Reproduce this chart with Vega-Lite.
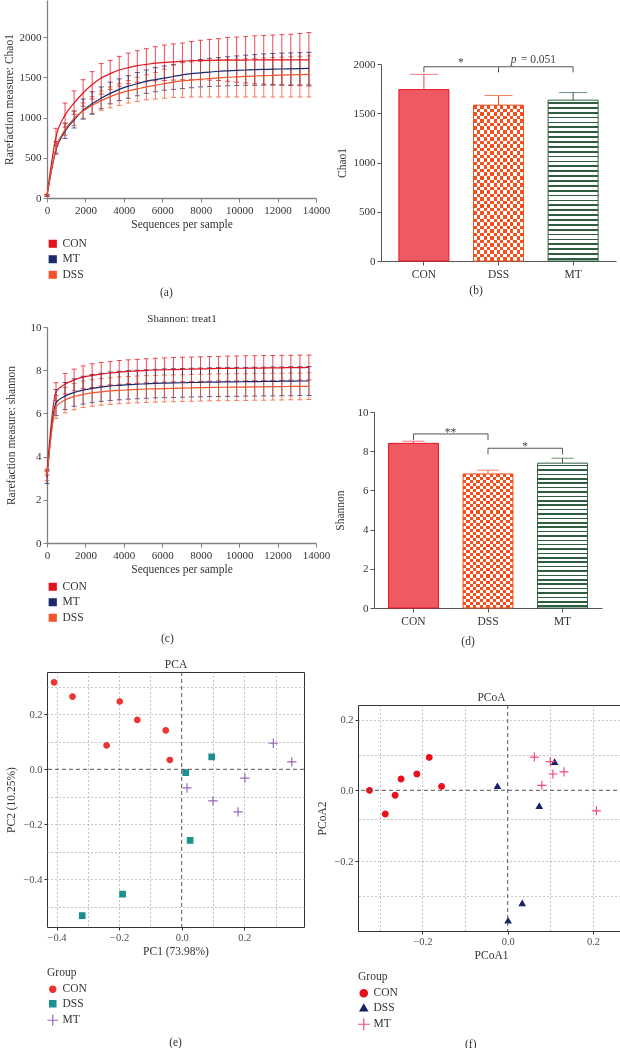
{
"$schema": "https://vega.github.io/schema/vega-lite/v6.json",
"padding": {"left": 3, "top": 0, "right": 0, "bottom": 0},
"spacing": -14,
"resolve": {"scale": {"color": "independent", "fill": "independent", "stroke": "independent", "shape": "independent", "x": "independent", "y": "independent"}, "legend": {"color": "independent", "fill": "independent", "stroke": "independent", "shape": "independent"}},
"datasets": {
"rare_chao": [
{"seq":0,"group":"CON","mean":35,"lo":25,"hi":45},{"seq":0,"group":"MT","mean":30,"lo":20,"hi":40},{"seq":0,"group":"DSS","mean":30,"lo":20,"hi":40},
{"seq":470,"group":"CON","mean":760,"lo":650,"hi":866},{"seq":470,"group":"MT","mean":600,"lo":545,"hi":700},{"seq":470,"group":"DSS","mean":620,"lo":560,"hi":700},
{"seq":940,"group":"CON","mean":1030,"lo":880,"hi":1180},{"seq":940,"group":"MT","mean":830,"lo":740,"hi":930},{"seq":940,"group":"DSS","mean":850,"lo":780,"hi":930},
{"seq":1410,"group":"CON","mean":1180,"lo":1040,"hi":1330},{"seq":1410,"group":"MT","mean":970,"lo":870,"hi":1080},{"seq":1410,"group":"DSS","mean":990,"lo":900,"hi":1080},
{"seq":1880,"group":"CON","mean":1305,"lo":1140,"hi":1470},{"seq":1880,"group":"MT","mean":1090,"lo":980,"hi":1230},{"seq":1880,"group":"DSS","mean":1080,"lo":990,"hi":1180},
{"seq":2350,"group":"CON","mean":1410,"lo":1230,"hi":1570},{"seq":2350,"group":"MT","mean":1170,"lo":1040,"hi":1320},{"seq":2350,"group":"DSS","mean":1150,"lo":1050,"hi":1260},
{"seq":2820,"group":"CON","mean":1490,"lo":1290,"hi":1670},{"seq":2820,"group":"MT","mean":1240,"lo":1110,"hi":1380},{"seq":2820,"group":"DSS","mean":1210,"lo":1090,"hi":1330},
{"seq":3290,"group":"CON","mean":1545,"lo":1350,"hi":1710},{"seq":3290,"group":"MT","mean":1300,"lo":1170,"hi":1440},{"seq":3290,"group":"DSS","mean":1260,"lo":1120,"hi":1380},
{"seq":3760,"group":"CON","mean":1590,"lo":1390,"hi":1760},{"seq":3760,"group":"MT","mean":1350,"lo":1210,"hi":1480},{"seq":3760,"group":"DSS","mean":1300,"lo":1150,"hi":1420},
{"seq":4230,"group":"CON","mean":1620,"lo":1420,"hi":1800},{"seq":4230,"group":"MT","mean":1390,"lo":1240,"hi":1520},{"seq":4230,"group":"DSS","mean":1330,"lo":1180,"hi":1460},
{"seq":4700,"group":"CON","mean":1645,"lo":1440,"hi":1830},{"seq":4700,"group":"MT","mean":1420,"lo":1270,"hi":1560},{"seq":4700,"group":"DSS","mean":1355,"lo":1200,"hi":1500},
{"seq":5170,"group":"CON","mean":1660,"lo":1450,"hi":1855},{"seq":5170,"group":"MT","mean":1450,"lo":1300,"hi":1590},{"seq":5170,"group":"DSS","mean":1380,"lo":1220,"hi":1530},
{"seq":5640,"group":"CON","mean":1675,"lo":1455,"hi":1880},{"seq":5640,"group":"MT","mean":1470,"lo":1320,"hi":1620},{"seq":5640,"group":"DSS","mean":1400,"lo":1230,"hi":1560},
{"seq":6110,"group":"CON","mean":1685,"lo":1460,"hi":1900},{"seq":6110,"group":"MT","mean":1490,"lo":1340,"hi":1640},{"seq":6110,"group":"DSS","mean":1420,"lo":1240,"hi":1600},
{"seq":6580,"group":"CON","mean":1692,"lo":1465,"hi":1915},{"seq":6580,"group":"MT","mean":1510,"lo":1350,"hi":1660},{"seq":6580,"group":"DSS","mean":1440,"lo":1250,"hi":1650},
{"seq":7050,"group":"CON","mean":1700,"lo":1470,"hi":1925},{"seq":7050,"group":"MT","mean":1530,"lo":1360,"hi":1690},{"seq":7050,"group":"DSS","mean":1455,"lo":1250,"hi":1680},
{"seq":7520,"group":"CON","mean":1705,"lo":1470,"hi":1945},{"seq":7520,"group":"MT","mean":1545,"lo":1370,"hi":1710},{"seq":7520,"group":"DSS","mean":1465,"lo":1255,"hi":1690},
{"seq":7990,"group":"CON","mean":1708,"lo":1470,"hi":1960},{"seq":7990,"group":"MT","mean":1555,"lo":1380,"hi":1720},{"seq":7990,"group":"DSS","mean":1475,"lo":1255,"hi":1700},
{"seq":8460,"group":"CON","mean":1710,"lo":1465,"hi":1970},{"seq":8460,"group":"MT","mean":1565,"lo":1385,"hi":1735},{"seq":8460,"group":"DSS","mean":1485,"lo":1255,"hi":1705},
{"seq":8930,"group":"CON","mean":1712,"lo":1460,"hi":1980},{"seq":8930,"group":"MT","mean":1575,"lo":1390,"hi":1745},{"seq":8930,"group":"DSS","mean":1492,"lo":1255,"hi":1715},
{"seq":9400,"group":"CON","mean":1713,"lo":1450,"hi":1995},{"seq":9400,"group":"MT","mean":1580,"lo":1395,"hi":1755},{"seq":9400,"group":"DSS","mean":1500,"lo":1255,"hi":1720},
{"seq":9870,"group":"CON","mean":1714,"lo":1440,"hi":2000},{"seq":9870,"group":"MT","mean":1585,"lo":1398,"hi":1765},{"seq":9870,"group":"DSS","mean":1505,"lo":1255,"hi":1725},
{"seq":10340,"group":"CON","mean":1714,"lo":1430,"hi":2005},{"seq":10340,"group":"MT","mean":1590,"lo":1400,"hi":1775},{"seq":10340,"group":"DSS","mean":1510,"lo":1255,"hi":1730},
{"seq":10810,"group":"CON","mean":1715,"lo":1420,"hi":2015},{"seq":10810,"group":"MT","mean":1595,"lo":1400,"hi":1782},{"seq":10810,"group":"DSS","mean":1515,"lo":1255,"hi":1735},
{"seq":11280,"group":"CON","mean":1715,"lo":1415,"hi":2020},{"seq":11280,"group":"MT","mean":1598,"lo":1402,"hi":1790},{"seq":11280,"group":"DSS","mean":1520,"lo":1255,"hi":1740},
{"seq":11750,"group":"CON","mean":1715,"lo":1410,"hi":2025},{"seq":11750,"group":"MT","mean":1600,"lo":1402,"hi":1795},{"seq":11750,"group":"DSS","mean":1523,"lo":1255,"hi":1745},
{"seq":12220,"group":"CON","mean":1715,"lo":1405,"hi":2030},{"seq":12220,"group":"MT","mean":1603,"lo":1403,"hi":1800},{"seq":12220,"group":"DSS","mean":1527,"lo":1255,"hi":1750},
{"seq":12690,"group":"CON","mean":1715,"lo":1400,"hi":2035},{"seq":12690,"group":"MT","mean":1605,"lo":1403,"hi":1803},{"seq":12690,"group":"DSS","mean":1530,"lo":1255,"hi":1755},
{"seq":13160,"group":"CON","mean":1715,"lo":1395,"hi":2045},{"seq":13160,"group":"MT","mean":1607,"lo":1404,"hi":1806},{"seq":13160,"group":"DSS","mean":1533,"lo":1255,"hi":1760},
{"seq":13630,"group":"CON","mean":1715,"lo":1390,"hi":2055},{"seq":13630,"group":"MT","mean":1610,"lo":1405,"hi":1810},{"seq":13630,"group":"DSS","mean":1536,"lo":1255,"hi":1765}
],
"rare_shannon": [
{"seq":0,"group":"CON","mean":3.3,"lo":3.15,"hi":3.42},{"seq":0,"group":"MT","mean":3.05,"lo":2.75,"hi":3.35},{"seq":0,"group":"DSS","mean":3.1,"lo":2.88,"hi":3.3},
{"seq":470,"group":"CON","mean":7.0,"lo":6.6,"hi":7.42},{"seq":470,"group":"MT","mean":6.5,"lo":5.9,"hi":7.1},{"seq":470,"group":"DSS","mean":6.3,"lo":5.77,"hi":6.83},
{"seq":940,"group":"CON","mean":7.35,"lo":6.9,"hi":7.85},{"seq":940,"group":"MT","mean":6.8,"lo":6.18,"hi":7.43},{"seq":940,"group":"DSS","mean":6.62,"lo":6.02,"hi":7.2},
{"seq":1410,"group":"CON","mean":7.55,"lo":7.05,"hi":8.05},{"seq":1410,"group":"MT","mean":6.97,"lo":6.33,"hi":7.6},{"seq":1410,"group":"DSS","mean":6.78,"lo":6.17,"hi":7.38},
{"seq":1880,"group":"CON","mean":7.68,"lo":7.15,"hi":8.2},{"seq":1880,"group":"MT","mean":7.08,"lo":6.43,"hi":7.72},{"seq":1880,"group":"DSS","mean":6.88,"lo":6.27,"hi":7.49},
{"seq":2350,"group":"CON","mean":7.76,"lo":7.2,"hi":8.3},{"seq":2350,"group":"MT","mean":7.16,"lo":6.5,"hi":7.8},{"seq":2350,"group":"DSS","mean":6.95,"lo":6.33,"hi":7.56},
{"seq":2820,"group":"CON","mean":7.82,"lo":7.27,"hi":8.36},{"seq":2820,"group":"MT","mean":7.22,"lo":6.56,"hi":7.86},{"seq":2820,"group":"DSS","mean":7.0,"lo":6.38,"hi":7.61},
{"seq":3290,"group":"CON","mean":7.87,"lo":7.32,"hi":8.4},{"seq":3290,"group":"MT","mean":7.27,"lo":6.6,"hi":7.92},{"seq":3290,"group":"DSS","mean":7.04,"lo":6.42,"hi":7.65},
{"seq":3760,"group":"CON","mean":7.91,"lo":7.35,"hi":8.45},{"seq":3760,"group":"MT","mean":7.3,"lo":6.63,"hi":7.95},{"seq":3760,"group":"DSS","mean":7.07,"lo":6.45,"hi":7.69},
{"seq":4230,"group":"CON","mean":7.94,"lo":7.38,"hi":8.48},{"seq":4230,"group":"MT","mean":7.33,"lo":6.66,"hi":7.98},{"seq":4230,"group":"DSS","mean":7.09,"lo":6.47,"hi":7.71},
{"seq":4700,"group":"CON","mean":7.97,"lo":7.4,"hi":8.5},{"seq":4700,"group":"MT","mean":7.35,"lo":6.68,"hi":8.0},{"seq":4700,"group":"DSS","mean":7.11,"lo":6.49,"hi":7.73},
{"seq":5170,"group":"CON","mean":7.99,"lo":7.42,"hi":8.53},{"seq":5170,"group":"MT","mean":7.37,"lo":6.7,"hi":8.02},{"seq":5170,"group":"DSS","mean":7.13,"lo":6.51,"hi":7.75},
{"seq":5640,"group":"CON","mean":8.01,"lo":7.44,"hi":8.55},{"seq":5640,"group":"MT","mean":7.39,"lo":6.72,"hi":8.04},{"seq":5640,"group":"DSS","mean":7.14,"lo":6.52,"hi":7.76},
{"seq":6110,"group":"CON","mean":8.02,"lo":7.45,"hi":8.57},{"seq":6110,"group":"MT","mean":7.4,"lo":6.73,"hi":8.06},{"seq":6110,"group":"DSS","mean":7.15,"lo":6.53,"hi":7.77},
{"seq":6580,"group":"CON","mean":8.03,"lo":7.46,"hi":8.59},{"seq":6580,"group":"MT","mean":7.41,"lo":6.74,"hi":8.07},{"seq":6580,"group":"DSS","mean":7.16,"lo":6.54,"hi":7.78},
{"seq":7050,"group":"CON","mean":8.04,"lo":7.47,"hi":8.6},{"seq":7050,"group":"MT","mean":7.42,"lo":6.75,"hi":8.08},{"seq":7050,"group":"DSS","mean":7.17,"lo":6.55,"hi":7.79},
{"seq":7520,"group":"CON","mean":8.05,"lo":7.48,"hi":8.61},{"seq":7520,"group":"MT","mean":7.43,"lo":6.76,"hi":8.09},{"seq":7520,"group":"DSS","mean":7.18,"lo":6.56,"hi":7.8},
{"seq":7990,"group":"CON","mean":8.06,"lo":7.49,"hi":8.62},{"seq":7990,"group":"MT","mean":7.44,"lo":6.77,"hi":8.1},{"seq":7990,"group":"DSS","mean":7.19,"lo":6.57,"hi":7.81},
{"seq":8460,"group":"CON","mean":8.07,"lo":7.49,"hi":8.63},{"seq":8460,"group":"MT","mean":7.45,"lo":6.78,"hi":8.11},{"seq":8460,"group":"DSS","mean":7.2,"lo":6.58,"hi":7.82},
{"seq":8930,"group":"CON","mean":8.08,"lo":7.5,"hi":8.64},{"seq":8930,"group":"MT","mean":7.45,"lo":6.78,"hi":8.12},{"seq":8930,"group":"DSS","mean":7.21,"lo":6.59,"hi":7.83},
{"seq":9400,"group":"CON","mean":8.08,"lo":7.5,"hi":8.65},{"seq":9400,"group":"MT","mean":7.46,"lo":6.79,"hi":8.12},{"seq":9400,"group":"DSS","mean":7.21,"lo":6.59,"hi":7.83},
{"seq":9870,"group":"CON","mean":8.09,"lo":7.51,"hi":8.66},{"seq":9870,"group":"MT","mean":7.46,"lo":6.79,"hi":8.13},{"seq":9870,"group":"DSS","mean":7.22,"lo":6.6,"hi":7.84},
{"seq":10340,"group":"CON","mean":8.09,"lo":7.51,"hi":8.67},{"seq":10340,"group":"MT","mean":7.47,"lo":6.8,"hi":8.13},{"seq":10340,"group":"DSS","mean":7.22,"lo":6.6,"hi":7.84},
{"seq":10810,"group":"CON","mean":8.1,"lo":7.52,"hi":8.67},{"seq":10810,"group":"MT","mean":7.47,"lo":6.8,"hi":8.14},{"seq":10810,"group":"DSS","mean":7.23,"lo":6.61,"hi":7.85},
{"seq":11280,"group":"CON","mean":8.1,"lo":7.52,"hi":8.68},{"seq":11280,"group":"MT","mean":7.48,"lo":6.81,"hi":8.14},{"seq":11280,"group":"DSS","mean":7.23,"lo":6.61,"hi":7.85},
{"seq":11750,"group":"CON","mean":8.11,"lo":7.53,"hi":8.68},{"seq":11750,"group":"MT","mean":7.48,"lo":6.81,"hi":8.15},{"seq":11750,"group":"DSS","mean":7.24,"lo":6.62,"hi":7.86},
{"seq":12220,"group":"CON","mean":8.11,"lo":7.53,"hi":8.69},{"seq":12220,"group":"MT","mean":7.49,"lo":6.82,"hi":8.15},{"seq":12220,"group":"DSS","mean":7.24,"lo":6.62,"hi":7.86},
{"seq":12690,"group":"CON","mean":8.12,"lo":7.54,"hi":8.69},{"seq":12690,"group":"MT","mean":7.49,"lo":6.82,"hi":8.16},{"seq":12690,"group":"DSS","mean":7.25,"lo":6.63,"hi":7.87},
{"seq":13160,"group":"CON","mean":8.12,"lo":7.54,"hi":8.7},{"seq":13160,"group":"MT","mean":7.5,"lo":6.83,"hi":8.16},{"seq":13160,"group":"DSS","mean":7.25,"lo":6.63,"hi":7.87},
{"seq":13630,"group":"CON","mean":8.13,"lo":7.55,"hi":8.7},{"seq":13630,"group":"MT","mean":7.5,"lo":6.83,"hi":8.17},{"seq":13630,"group":"DSS","mean":7.26,"lo":6.64,"hi":7.88}
],
"bars_chao": [{"group":"CON","mean":1740,"hi":1895},{"group":"DSS","mean":1582,"hi":1680},{"group":"MT","mean":1633,"hi":1710}],
"bars_shannon": [{"group":"CON","mean":8.4,"hi":8.51},{"group":"DSS","mean":6.84,"hi":7.03},{"group":"MT","mean":7.39,"hi":7.64}],
"pca": [
{"group":"CON","pc1":-0.408,"pc2":0.317},{"group":"CON","pc1":-0.349,"pc2":0.265},{"group":"CON","pc1":-0.198,"pc2":0.247},{"group":"CON","pc1":-0.142,"pc2":0.18},{"group":"CON","pc1":-0.051,"pc2":0.142},{"group":"CON","pc1":-0.24,"pc2":0.087},{"group":"CON","pc1":-0.038,"pc2":0.034},
{"group":"DSS","pc1":0.096,"pc2":0.045},{"group":"DSS","pc1":0.013,"pc2":-0.012},{"group":"DSS","pc1":0.027,"pc2":-0.259},{"group":"DSS","pc1":-0.189,"pc2":-0.455},{"group":"DSS","pc1":-0.318,"pc2":-0.533},
{"group":"MT","pc1":0.293,"pc2":0.095},{"group":"MT","pc1":0.352,"pc2":0.027},{"group":"MT","pc1":0.202,"pc2":-0.032},{"group":"MT","pc1":0.017,"pc2":-0.068},{"group":"MT","pc1":0.1,"pc2":-0.115},{"group":"MT","pc1":0.18,"pc2":-0.155}
],
"pcoa": [
{"group":"CON","a1":-0.324,"a2":0.0},{"group":"CON","a1":-0.287,"a2":-0.067},{"group":"CON","a1":-0.264,"a2":-0.014},{"group":"CON","a1":-0.25,"a2":0.032},{"group":"CON","a1":-0.213,"a2":0.046},{"group":"CON","a1":-0.184,"a2":0.093},{"group":"CON","a1":-0.155,"a2":0.011},
{"group":"DSS","a1":-0.024,"a2":0.012},{"group":"DSS","a1":0.11,"a2":0.08},{"group":"DSS","a1":0.074,"a2":-0.044},{"group":"DSS","a1":0.034,"a2":-0.319},{"group":"DSS","a1":0.001,"a2":-0.368},
{"group":"MT","a1":0.0625,"a2":0.094},{"group":"MT","a1":0.1,"a2":0.081},{"group":"MT","a1":0.106,"a2":0.046},{"group":"MT","a1":0.132,"a2":0.052},{"group":"MT","a1":0.08,"a2":0.014},{"group":"MT","a1":0.208,"a2":-0.058}
]
},
"hconcat": [
{
"vconcat": [
{
"width": 269, "height": 198,
"data": {"name": "rare_chao"},
"title": {"text": "(a)", "orient": "bottom", "anchor": "middle", "frame": "bounds", "offset": 5},
"layer": [
{"mark": {"type": "errorbar", "ticks": {"size": 5}, "thickness": 1, "opacity": 0.75},
 "encoding": {
  "x": {"field": "seq", "type": "quantitative", "scale": {"domain": [0, 14000], "nice": false}, "axis": {"values": [0,2000,4000,6000,8000,10000,12000,14000], "format": "d", "title": "Sequences per sample", "titlePadding": 3, "labelOverlap": false, "labelFlush": false, "domainWidth": 1.3}},
  "y": {"field": "lo", "type": "quantitative", "scale": {"domain": [0, 2460], "nice": false}, "axis": {"values": [0,500,1000,1500,2000], "format": "d", "title": "Rarefaction measure: Chao1", "titlePadding": 5, "labelOverlap": false, "domainWidth": 1.3}},
  "y2": {"field": "hi"},
  "color": {"field": "group", "type": "nominal", "scale": {"domain": ["CON","MT","DSS"], "range": ["#e3121d","#1c2a6c","#f2542b"]}, "legend": {"orient": "bottom", "direction": "vertical", "title": null, "symbolType": "square", "symbolSize": 45, "offset": 8, "rowPadding": 1.5, "labelFontSize": 11.5, "encode": {"symbols": {"update": {"fill": [{"test": "datum.value === 'CON'", "value": "#e3121d"}, {"test": "datum.value === 'MT'", "value": "#1c2a6c"}, {"value": "#f2542b"}], "stroke": {"value": "transparent"}, "opacity": {"value": 1}}}}}}
 }},
{"mark": {"type": "line", "interpolate": "monotone", "strokeWidth": 1.2},
 "encoding": {
  "x": {"field": "seq", "type": "quantitative", "axis": {"values": [0,2000,4000,6000,8000,10000,12000,14000], "format": "d", "title": "Sequences per sample", "titlePadding": 3, "labelOverlap": false, "labelFlush": false, "domainWidth": 1.3}},
  "y": {"field": "mean", "type": "quantitative", "axis": {"values": [0,500,1000,1500,2000], "format": "d", "title": "Rarefaction measure: Chao1", "titlePadding": 5, "labelOverlap": false, "domainWidth": 1.3}},
  "color": {"field": "group", "type": "nominal", "legend": {"orient": "bottom", "direction": "vertical", "title": null, "symbolType": "square", "symbolSize": 45, "offset": 8, "rowPadding": 1.5, "labelFontSize": 11.5, "encode": {"symbols": {"update": {"fill": [{"test": "datum.value === 'CON'", "value": "#e3121d"}, {"test": "datum.value === 'MT'", "value": "#1c2a6c"}, {"value": "#f2542b"}], "stroke": {"value": "transparent"}, "opacity": {"value": 1}}}}}}
 }}
]
},
{
"width": 269, "height": 216,
"data": {"name": "rare_shannon"},
"title": {"text": "(c)", "orient": "bottom", "anchor": "middle", "frame": "bounds", "offset": 8},
"resolve": {"axis": {"x": "independent"}},
"layer": [
{"mark": {"type": "errorbar", "ticks": {"size": 5}, "thickness": 1, "opacity": 0.75},
 "encoding": {
  "x": {"field": "seq", "type": "quantitative", "scale": {"domain": [0, 14000], "nice": false}, "axis": {"values": [0,2000,4000,6000,8000,10000,12000,14000], "format": "d", "title": "Sequences per sample", "titlePadding": 3, "labelOverlap": false, "labelFlush": false, "domainWidth": 1.3}},
  "y": {"field": "lo", "type": "quantitative", "scale": {"domain": [0, 10], "nice": false}, "axis": {"values": [0,2,4,6,8,10], "title": "Rarefaction measure: shannon", "titlePadding": 14, "labelOverlap": false, "domainWidth": 1.3}},
  "y2": {"field": "hi"},
  "color": {"field": "group", "type": "nominal", "scale": {"domain": ["CON","MT","DSS"], "range": ["#e3121d","#1c2a6c","#f2542b"]}, "legend": {"orient": "bottom", "direction": "vertical", "title": null, "symbolType": "square", "symbolSize": 45, "offset": 6, "rowPadding": 1.5, "labelFontSize": 11.5, "encode": {"symbols": {"update": {"fill": [{"test": "datum.value === 'CON'", "value": "#e3121d"}, {"test": "datum.value === 'MT'", "value": "#1c2a6c"}, {"value": "#f2542b"}], "stroke": {"value": "transparent"}, "opacity": {"value": 1}}}}}}
 }},
{"mark": {"type": "line", "interpolate": "monotone", "strokeWidth": 1.2},
 "encoding": {
  "x": {"field": "seq", "type": "quantitative", "axis": {"orient": "top", "title": "Shannon: treat1", "labels": false, "ticks": false, "domain": false, "grid": false, "titlePadding": 4, "titleFontSize": 11}},
  "y": {"field": "mean", "type": "quantitative", "axis": {"values": [0,2,4,6,8,10], "title": "Rarefaction measure: shannon", "titlePadding": 14, "labelOverlap": false, "domainWidth": 1.3}},
  "color": {"field": "group", "type": "nominal", "legend": {"orient": "bottom", "direction": "vertical", "title": null, "symbolType": "square", "symbolSize": 45, "offset": 6, "rowPadding": 1.5, "labelFontSize": 11.5, "encode": {"symbols": {"update": {"fill": [{"test": "datum.value === 'CON'", "value": "#e3121d"}, {"test": "datum.value === 'MT'", "value": "#1c2a6c"}, {"value": "#f2542b"}], "stroke": {"value": "transparent"}, "opacity": {"value": 1}}}}}}
 }}
]
},
{
"width": 257, "height": 255,
"view": {"stroke": "#333333", "strokeWidth": 1},
"title": {"text": "(e)", "orient": "bottom", "anchor": "middle", "frame": "group", "offset": 8},
"resolve": {"axis": {"x": "independent", "y": "independent"}},
"layer": [
{"data": {"name": "pca"},
 "mark": {"type": "point", "size": 30, "strokeWidth": 1.2, "opacity": 1},
 "encoding": {
  "x": {"field": "pc1", "type": "quantitative", "scale": {"domain": [-0.4306, 0.391], "nice": false, "zero": false}, "axis": {"title": "PC1 (73.98%)", "values": [-0.4,-0.2,0,0.2], "format": ".1f", "labelOverlap": false, "labelFlush": false, "grid": true, "gridDash": [1,3], "gridColor": "#8a8a8a", "gridOpacity": {"condition": {"test": "datum.value == 0", "value": 0}, "value": 1}, "domain": false, "tickSize": 3, "tickColor": "#333333", "labelColor": "#4d4d4d", "labelFontSize": 10.5, "labelPadding": 2, "titlePadding": 3}},
  "y": {"field": "pc2", "type": "quantitative", "scale": {"domain": [-0.5745, 0.3545], "nice": false, "zero": false}, "axis": {"title": "PC2 (10.25%)", "values": [-0.4,-0.2,0,0.2], "format": ".1f", "labelOverlap": false, "labelFlush": false, "grid": true, "gridDash": [1,3], "gridColor": "#8a8a8a", "gridOpacity": {"condition": {"test": "datum.value == 0", "value": 0}, "value": 1}, "domain": false, "tickSize": 3, "tickColor": "#333333", "labelColor": "#4d4d4d", "labelFontSize": 10.5, "labelPadding": 2, "titlePadding": 6}},
  "fill": {"field": "group", "type": "nominal", "scale": {"domain": ["CON","DSS","MT"], "range": ["#ec3430","#1c8f8f","transparent"]}, "legend": {"orient": "bottom", "direction": "vertical", "title": "Group", "symbolSize": 40, "offset": 10, "rowPadding": 1.5, "symbolStrokeWidth": 1.2}},
  "stroke": {"field": "group", "type": "nominal", "scale": {"domain": ["CON","DSS","MT"], "range": ["#ec3430","#1c8f8f","#9966bb"]}, "legend": {"orient": "bottom", "direction": "vertical", "title": "Group", "symbolSize": 40, "offset": 10, "rowPadding": 1.5, "symbolStrokeWidth": 1.2}},
  "shape": {"field": "group", "type": "nominal", "scale": {"domain": ["CON","DSS","MT"], "range": ["circle","square","M-1.7,0H1.7M0,-1.7V1.7"]}, "legend": {"orient": "bottom", "direction": "vertical", "title": "Group", "symbolSize": 40, "offset": 10, "rowPadding": 1.5, "symbolStrokeWidth": 1.2}}
 }},
{"data": {"values": [{}]},
 "mark": {"type": "rule", "strokeDash": [4,3], "color": "#555555", "strokeWidth": 1},
 "encoding": {"x": {"datum": 0, "type": "quantitative", "axis": {"orient": "top", "title": "PCA", "values": [-0.3,-0.1,0.1,0.3], "labels": false, "ticks": false, "domain": false, "grid": true, "gridDash": [1,3], "gridColor": "#8a8a8a", "titlePadding": 3, "titleFontSize": 11.5}}}},
{"data": {"values": [{}]},
 "mark": {"type": "rule", "strokeDash": [4,3], "color": "#555555", "strokeWidth": 1},
 "encoding": {"y": {"datum": 0, "type": "quantitative", "axis": {"orient": "right", "title": null, "values": [-0.5,-0.3,-0.1,0.1,0.3], "labels": false, "ticks": false, "domain": false, "grid": true, "gridDash": [1,3], "gridColor": "#8a8a8a"}}}}
]
}
],
"spacing": 129,
"bounds": "flush",
"resolve": {"scale": {"color": "independent", "fill": "independent", "stroke": "independent", "shape": "independent"}, "legend": {"color": "independent", "fill": "independent", "stroke": "independent", "shape": "independent"}}
},
{
"vconcat": [
{
"width": 258, "height": 261,
"title": {"text": "(b)", "orient": "bottom", "anchor": "middle", "frame": "bounds", "offset": 5},
"layer": [
{"data": {"name": "bars_chao"}, "transform": [{"filter": "datum.group === 'CON'"}],
 "mark": {"type": "bar", "fill": "#ef5a62", "stroke": "#e8141f", "strokeWidth": 1},
 "encoding": {
  "x": {"field": "group", "type": "nominal", "scale": {"domain": ["CON","DSS","MT"], "range": [23, 258], "paddingInner": 0.33, "paddingOuter": 0.24}, "axis": {"title": null, "labelAngle": 0, "labelFontSize": 11.5, "labelPadding": 3, "domainColor": "#555555", "tickColor": "#555555", "tickSize": 4}},
  "y": {"field": "mean", "type": "quantitative", "scale": {"domain": [0, 2000], "range": [261, 64], "nice": false}, "axis": {"values": [0,500,1000,1500,2000], "format": "d", "title": "Chao1", "offset": -23, "titlePadding": 6, "labelOverlap": false, "domainColor": "#555555", "tickColor": "#555555", "tickSize": 4}}
 }},
{"data": {"name": "bars_chao"}, "transform": [{"filter": "datum.group === 'DSS'"}],
 "mark": {"type": "bar", "fill": {"gradient": "linear", "x1": 0, "y1": 0, "x2": 1, "y2": 0, "stops": [
{"offset":0,"color":"#000"},{"offset":0.0667,"color":"#000"},{"offset":0.0667,"color":"#fff"},{"offset":0.1333,"color":"#fff"},
{"offset":0.1333,"color":"#000"},{"offset":0.2,"color":"#000"},{"offset":0.2,"color":"#fff"},{"offset":0.2667,"color":"#fff"},
{"offset":0.2667,"color":"#000"},{"offset":0.3333,"color":"#000"},{"offset":0.3333,"color":"#fff"},{"offset":0.4,"color":"#fff"},
{"offset":0.4,"color":"#000"},{"offset":0.4667,"color":"#000"},{"offset":0.4667,"color":"#fff"},{"offset":0.5333,"color":"#fff"},
{"offset":0.5333,"color":"#000"},{"offset":0.6,"color":"#000"},{"offset":0.6,"color":"#fff"},{"offset":0.6667,"color":"#fff"},
{"offset":0.6667,"color":"#000"},{"offset":0.7333,"color":"#000"},{"offset":0.7333,"color":"#fff"},{"offset":0.8,"color":"#fff"},
{"offset":0.8,"color":"#000"},{"offset":0.8667,"color":"#000"},{"offset":0.8667,"color":"#fff"},{"offset":0.9333,"color":"#fff"},
{"offset":0.9333,"color":"#000"},{"offset":1,"color":"#000"}]}},
 "encoding": {"x": {"field": "group", "type": "nominal"}, "y": {"field": "mean", "type": "quantitative"}}},
{"data": {"name": "bars_chao"}, "transform": [{"filter": "datum.group === 'DSS'"}],
 "mark": {"type": "bar", "blend": "difference", "fill": {"gradient": "linear", "x1": 0, "y1": 0, "x2": 0, "y2": 1, "stops": [
{"offset":0,"color":"#000"},{"offset":0.0227,"color":"#000"},{"offset":0.0227,"color":"#fff"},{"offset":0.0455,"color":"#fff"},
{"offset":0.0455,"color":"#000"},{"offset":0.0682,"color":"#000"},{"offset":0.0682,"color":"#fff"},{"offset":0.0909,"color":"#fff"},
{"offset":0.0909,"color":"#000"},{"offset":0.1136,"color":"#000"},{"offset":0.1136,"color":"#fff"},{"offset":0.1364,"color":"#fff"},
{"offset":0.1364,"color":"#000"},{"offset":0.1591,"color":"#000"},{"offset":0.1591,"color":"#fff"},{"offset":0.1818,"color":"#fff"},
{"offset":0.1818,"color":"#000"},{"offset":0.2045,"color":"#000"},{"offset":0.2045,"color":"#fff"},{"offset":0.2273,"color":"#fff"},
{"offset":0.2273,"color":"#000"},{"offset":0.25,"color":"#000"},{"offset":0.25,"color":"#fff"},{"offset":0.2727,"color":"#fff"},
{"offset":0.2727,"color":"#000"},{"offset":0.2955,"color":"#000"},{"offset":0.2955,"color":"#fff"},{"offset":0.3182,"color":"#fff"},
{"offset":0.3182,"color":"#000"},{"offset":0.3409,"color":"#000"},{"offset":0.3409,"color":"#fff"},{"offset":0.3636,"color":"#fff"},
{"offset":0.3636,"color":"#000"},{"offset":0.3864,"color":"#000"},{"offset":0.3864,"color":"#fff"},{"offset":0.4091,"color":"#fff"},
{"offset":0.4091,"color":"#000"},{"offset":0.4318,"color":"#000"},{"offset":0.4318,"color":"#fff"},{"offset":0.4545,"color":"#fff"},
{"offset":0.4545,"color":"#000"},{"offset":0.4773,"color":"#000"},{"offset":0.4773,"color":"#fff"},{"offset":0.5,"color":"#fff"},
{"offset":0.5,"color":"#000"},{"offset":0.5227,"color":"#000"},{"offset":0.5227,"color":"#fff"},{"offset":0.5455,"color":"#fff"},
{"offset":0.5455,"color":"#000"},{"offset":0.5682,"color":"#000"},{"offset":0.5682,"color":"#fff"},{"offset":0.5909,"color":"#fff"},
{"offset":0.5909,"color":"#000"},{"offset":0.6136,"color":"#000"},{"offset":0.6136,"color":"#fff"},{"offset":0.6364,"color":"#fff"},
{"offset":0.6364,"color":"#000"},{"offset":0.6591,"color":"#000"},{"offset":0.6591,"color":"#fff"},{"offset":0.6818,"color":"#fff"},
{"offset":0.6818,"color":"#000"},{"offset":0.7045,"color":"#000"},{"offset":0.7045,"color":"#fff"},{"offset":0.7273,"color":"#fff"},
{"offset":0.7273,"color":"#000"},{"offset":0.75,"color":"#000"},{"offset":0.75,"color":"#fff"},{"offset":0.7727,"color":"#fff"},
{"offset":0.7727,"color":"#000"},{"offset":0.7955,"color":"#000"},{"offset":0.7955,"color":"#fff"},{"offset":0.8182,"color":"#fff"},
{"offset":0.8182,"color":"#000"},{"offset":0.8409,"color":"#000"},{"offset":0.8409,"color":"#fff"},{"offset":0.8636,"color":"#fff"},
{"offset":0.8636,"color":"#000"},{"offset":0.8864,"color":"#000"},{"offset":0.8864,"color":"#fff"},{"offset":0.9091,"color":"#fff"},
{"offset":0.9091,"color":"#000"},{"offset":0.9318,"color":"#000"},{"offset":0.9318,"color":"#fff"},{"offset":0.9545,"color":"#fff"},
{"offset":0.9545,"color":"#000"},{"offset":0.9773,"color":"#000"},{"offset":0.9773,"color":"#fff"},{"offset":1,"color":"#fff"}]}},
 "encoding": {"x": {"field": "group", "type": "nominal"}, "y": {"field": "mean", "type": "quantitative"}}},
{"data": {"name": "bars_chao"}, "transform": [{"filter": "datum.group === 'DSS'"}],
 "mark": {"type": "bar", "fill": "#f3501e", "blend": "lighten"},
 "encoding": {"x": {"field": "group", "type": "nominal"}, "y": {"field": "mean", "type": "quantitative"}}},
{"data": {"name": "bars_chao"}, "transform": [{"filter": "datum.group === 'DSS'"}],
 "mark": {"type": "bar", "fill": "transparent", "stroke": "#f3501e", "strokeWidth": 1},
 "encoding": {"x": {"field": "group", "type": "nominal"}, "y": {"field": "mean", "type": "quantitative"}}},
{"data": {"name": "bars_chao"}, "transform": [{"filter": "datum.group === 'MT'"}],
 "mark": {"type": "bar", "stroke": "#2e5e3e", "strokeWidth": 1, "fill": {"gradient": "linear", "x1": 0, "y1": 0, "x2": 0, "y2": 1, "stops": [
{"offset":0,"color":"#ffffff"},
{"offset":0.012,"color":"#ffffff"},{"offset":0.012,"color":"#2e5e3e"},{"offset":0.023,"color":"#2e5e3e"},{"offset":0.023,"color":"#ffffff"},
{"offset":0.0423,"color":"#ffffff"},{"offset":0.0423,"color":"#2e5e3e"},{"offset":0.0533,"color":"#2e5e3e"},{"offset":0.0533,"color":"#ffffff"},
{"offset":0.0726,"color":"#ffffff"},{"offset":0.0726,"color":"#2e5e3e"},{"offset":0.0836,"color":"#2e5e3e"},{"offset":0.0836,"color":"#ffffff"},
{"offset":0.1029,"color":"#ffffff"},{"offset":0.1029,"color":"#2e5e3e"},{"offset":0.1139,"color":"#2e5e3e"},{"offset":0.1139,"color":"#ffffff"},
{"offset":0.1332,"color":"#ffffff"},{"offset":0.1332,"color":"#2e5e3e"},{"offset":0.1442,"color":"#2e5e3e"},{"offset":0.1442,"color":"#ffffff"},
{"offset":0.1635,"color":"#ffffff"},{"offset":0.1635,"color":"#2e5e3e"},{"offset":0.1745,"color":"#2e5e3e"},{"offset":0.1745,"color":"#ffffff"},
{"offset":0.1938,"color":"#ffffff"},{"offset":0.1938,"color":"#2e5e3e"},{"offset":0.2048,"color":"#2e5e3e"},{"offset":0.2048,"color":"#ffffff"},
{"offset":0.2241,"color":"#ffffff"},{"offset":0.2241,"color":"#2e5e3e"},{"offset":0.2351,"color":"#2e5e3e"},{"offset":0.2351,"color":"#ffffff"},
{"offset":0.2544,"color":"#ffffff"},{"offset":0.2544,"color":"#2e5e3e"},{"offset":0.2654,"color":"#2e5e3e"},{"offset":0.2654,"color":"#ffffff"},
{"offset":0.2847,"color":"#ffffff"},{"offset":0.2847,"color":"#2e5e3e"},{"offset":0.2957,"color":"#2e5e3e"},{"offset":0.2957,"color":"#ffffff"},
{"offset":0.315,"color":"#ffffff"},{"offset":0.315,"color":"#2e5e3e"},{"offset":0.326,"color":"#2e5e3e"},{"offset":0.326,"color":"#ffffff"},
{"offset":0.3453,"color":"#ffffff"},{"offset":0.3453,"color":"#2e5e3e"},{"offset":0.3563,"color":"#2e5e3e"},{"offset":0.3563,"color":"#ffffff"},
{"offset":0.3756,"color":"#ffffff"},{"offset":0.3756,"color":"#2e5e3e"},{"offset":0.3866,"color":"#2e5e3e"},{"offset":0.3866,"color":"#ffffff"},
{"offset":0.4059,"color":"#ffffff"},{"offset":0.4059,"color":"#2e5e3e"},{"offset":0.4169,"color":"#2e5e3e"},{"offset":0.4169,"color":"#ffffff"},
{"offset":0.4362,"color":"#ffffff"},{"offset":0.4362,"color":"#2e5e3e"},{"offset":0.4472,"color":"#2e5e3e"},{"offset":0.4472,"color":"#ffffff"},
{"offset":0.4665,"color":"#ffffff"},{"offset":0.4665,"color":"#2e5e3e"},{"offset":0.4775,"color":"#2e5e3e"},{"offset":0.4775,"color":"#ffffff"},
{"offset":0.4968,"color":"#ffffff"},{"offset":0.4968,"color":"#2e5e3e"},{"offset":0.5078,"color":"#2e5e3e"},{"offset":0.5078,"color":"#ffffff"},
{"offset":0.5272,"color":"#ffffff"},{"offset":0.5272,"color":"#2e5e3e"},{"offset":0.5382,"color":"#2e5e3e"},{"offset":0.5382,"color":"#ffffff"},
{"offset":0.5575,"color":"#ffffff"},{"offset":0.5575,"color":"#2e5e3e"},{"offset":0.5685,"color":"#2e5e3e"},{"offset":0.5685,"color":"#ffffff"},
{"offset":0.5878,"color":"#ffffff"},{"offset":0.5878,"color":"#2e5e3e"},{"offset":0.5988,"color":"#2e5e3e"},{"offset":0.5988,"color":"#ffffff"},
{"offset":0.6181,"color":"#ffffff"},{"offset":0.6181,"color":"#2e5e3e"},{"offset":0.6291,"color":"#2e5e3e"},{"offset":0.6291,"color":"#ffffff"},
{"offset":0.6484,"color":"#ffffff"},{"offset":0.6484,"color":"#2e5e3e"},{"offset":0.6594,"color":"#2e5e3e"},{"offset":0.6594,"color":"#ffffff"},
{"offset":0.6787,"color":"#ffffff"},{"offset":0.6787,"color":"#2e5e3e"},{"offset":0.6897,"color":"#2e5e3e"},{"offset":0.6897,"color":"#ffffff"},
{"offset":0.709,"color":"#ffffff"},{"offset":0.709,"color":"#2e5e3e"},{"offset":0.72,"color":"#2e5e3e"},{"offset":0.72,"color":"#ffffff"},
{"offset":0.7393,"color":"#ffffff"},{"offset":0.7393,"color":"#2e5e3e"},{"offset":0.7503,"color":"#2e5e3e"},{"offset":0.7503,"color":"#ffffff"},
{"offset":0.7696,"color":"#ffffff"},{"offset":0.7696,"color":"#2e5e3e"},{"offset":0.7806,"color":"#2e5e3e"},{"offset":0.7806,"color":"#ffffff"},
{"offset":0.7999,"color":"#ffffff"},{"offset":0.7999,"color":"#2e5e3e"},{"offset":0.8109,"color":"#2e5e3e"},{"offset":0.8109,"color":"#ffffff"},
{"offset":0.8302,"color":"#ffffff"},{"offset":0.8302,"color":"#2e5e3e"},{"offset":0.8412,"color":"#2e5e3e"},{"offset":0.8412,"color":"#ffffff"},
{"offset":0.8605,"color":"#ffffff"},{"offset":0.8605,"color":"#2e5e3e"},{"offset":0.8715,"color":"#2e5e3e"},{"offset":0.8715,"color":"#ffffff"},
{"offset":0.8908,"color":"#ffffff"},{"offset":0.8908,"color":"#2e5e3e"},{"offset":0.9018,"color":"#2e5e3e"},{"offset":0.9018,"color":"#ffffff"},
{"offset":0.9211,"color":"#ffffff"},{"offset":0.9211,"color":"#2e5e3e"},{"offset":0.9321,"color":"#2e5e3e"},{"offset":0.9321,"color":"#ffffff"},
{"offset":0.9514,"color":"#ffffff"},{"offset":0.9514,"color":"#2e5e3e"},{"offset":0.9624,"color":"#2e5e3e"},{"offset":0.9624,"color":"#ffffff"},
{"offset":0.9817,"color":"#ffffff"},{"offset":0.9817,"color":"#2e5e3e"},{"offset":0.9927,"color":"#2e5e3e"},{"offset":0.9927,"color":"#ffffff"},
{"offset":1,"color":"#ffffff"}]}},
 "encoding": {"x": {"field": "group", "type": "nominal"}, "y": {"field": "mean", "type": "quantitative"}}},
{"data": {"name": "bars_chao"}, "mark": {"type": "rule", "strokeWidth": 1},
 "encoding": {"x": {"field": "group", "type": "nominal"}, "y": {"field": "mean", "type": "quantitative"}, "y2": {"field": "hi"}, "color": {"field": "group", "type": "nominal", "scale": {"domain": ["CON","DSS","MT"], "range": ["#f0404a","#f3501e","#2e5e3e"]}, "legend": null}}},
{"data": {"name": "bars_chao"}, "mark": {"type": "tick", "size": 28, "thickness": 1},
 "encoding": {"x": {"field": "group", "type": "nominal"}, "y": {"field": "hi", "type": "quantitative"}, "color": {"field": "group", "type": "nominal", "legend": null}}},
{"data": {"values": [{"x1":"CON","x2":"DSS","y1":1972,"y2":1972},{"x1":"CON","x2":"CON","y1":1915,"y2":1972},{"x1":"DSS","x2":"DSS","y1":1915,"y2":1972},{"x1":"DSS","x2":"MT","y1":1972,"y2":1972},{"x1":"MT","x2":"MT","y1":1915,"y2":1972}]},
 "mark": {"type": "rule", "color": "#555555", "strokeWidth": 1},
 "encoding": {"x": {"field": "x1", "type": "nominal"}, "x2": {"field": "x2"}, "y": {"field": "y1", "type": "quantitative"}, "y2": {"field": "y2"}}},
{"data": {"values": [{"x":"CON","y":1972,"label":"*"}]},
 "mark": {"type": "text", "dx": 37, "dy": -1, "baseline": "alphabetic", "fontSize": 11.5, "color": "#444444"},
 "encoding": {"x": {"field": "x", "type": "nominal"}, "y": {"field": "y", "type": "quantitative"}, "text": {"field": "label"}}},
{"data": {"values": [{"x":"DSS","y":1972,"label":"= 0.051"}]},
 "mark": {"type": "text", "dx": 40, "dy": -4, "baseline": "alphabetic", "fontSize": 11.5, "color": "#444444"},
 "encoding": {"x": {"field": "x", "type": "nominal"}, "y": {"field": "y", "type": "quantitative"}, "text": {"field": "label"}}},
{"data": {"values": [{"x":"DSS","y":1972,"label":"p"}]},
 "mark": {"type": "text", "dx": 15, "dy": -4, "baseline": "alphabetic", "fontSize": 11.5, "fontStyle": "italic", "color": "#444444"},
 "encoding": {"x": {"field": "x", "type": "nominal"}, "y": {"field": "y", "type": "quantitative"}, "text": {"field": "label"}}}
]
},
{
"width": 244, "height": 250,
"title": {"text": "(d)", "orient": "bottom", "anchor": "middle", "frame": "bounds", "offset": 9},
"layer": [
{"data": {"name": "bars_shannon"}, "transform": [{"filter": "datum.group === 'CON'"}],
 "mark": {"type": "bar", "fill": "#ef5a62", "stroke": "#e8141f", "strokeWidth": 1},
 "encoding": {
  "x": {"field": "group", "type": "nominal", "scale": {"domain": ["CON","DSS","MT"], "range": [16, 244], "paddingInner": 0.33, "paddingOuter": 0.195}, "axis": {"title": null, "labelAngle": 0, "labelFontSize": 11.5, "labelPadding": 3, "domainColor": "#555555", "tickColor": "#555555", "tickSize": 4}},
  "y": {"field": "mean", "type": "quantitative", "scale": {"domain": [0, 10], "range": [250, 54], "nice": false}, "axis": {"values": [0,2,4,6,8,10], "title": "Shannon", "offset": -16, "titlePadding": 12, "labelOverlap": false, "domainColor": "#555555", "tickColor": "#555555", "tickSize": 4}}
 }},
{"data": {"name": "bars_shannon"}, "transform": [{"filter": "datum.group === 'DSS'"}],
 "mark": {"type": "bar", "fill": {"gradient": "linear", "x1": 0, "y1": 0, "x2": 1, "y2": 0, "stops": [
{"offset":0,"color":"#000"},{"offset":0.0667,"color":"#000"},{"offset":0.0667,"color":"#fff"},{"offset":0.1333,"color":"#fff"},
{"offset":0.1333,"color":"#000"},{"offset":0.2,"color":"#000"},{"offset":0.2,"color":"#fff"},{"offset":0.2667,"color":"#fff"},
{"offset":0.2667,"color":"#000"},{"offset":0.3333,"color":"#000"},{"offset":0.3333,"color":"#fff"},{"offset":0.4,"color":"#fff"},
{"offset":0.4,"color":"#000"},{"offset":0.4667,"color":"#000"},{"offset":0.4667,"color":"#fff"},{"offset":0.5333,"color":"#fff"},
{"offset":0.5333,"color":"#000"},{"offset":0.6,"color":"#000"},{"offset":0.6,"color":"#fff"},{"offset":0.6667,"color":"#fff"},
{"offset":0.6667,"color":"#000"},{"offset":0.7333,"color":"#000"},{"offset":0.7333,"color":"#fff"},{"offset":0.8,"color":"#fff"},
{"offset":0.8,"color":"#000"},{"offset":0.8667,"color":"#000"},{"offset":0.8667,"color":"#fff"},{"offset":0.9333,"color":"#fff"},
{"offset":0.9333,"color":"#000"},{"offset":1,"color":"#000"}]}},
 "encoding": {"x": {"field": "group", "type": "nominal"}, "y": {"field": "mean", "type": "quantitative"}}},
{"data": {"name": "bars_shannon"}, "transform": [{"filter": "datum.group === 'DSS'"}],
 "mark": {"type": "bar", "blend": "difference", "fill": {"gradient": "linear", "x1": 0, "y1": 0, "x2": 0, "y2": 1, "stops": [
{"offset":0,"color":"#000"},{"offset":0.0227,"color":"#000"},{"offset":0.0227,"color":"#fff"},{"offset":0.0455,"color":"#fff"},
{"offset":0.0455,"color":"#000"},{"offset":0.0682,"color":"#000"},{"offset":0.0682,"color":"#fff"},{"offset":0.0909,"color":"#fff"},
{"offset":0.0909,"color":"#000"},{"offset":0.1136,"color":"#000"},{"offset":0.1136,"color":"#fff"},{"offset":0.1364,"color":"#fff"},
{"offset":0.1364,"color":"#000"},{"offset":0.1591,"color":"#000"},{"offset":0.1591,"color":"#fff"},{"offset":0.1818,"color":"#fff"},
{"offset":0.1818,"color":"#000"},{"offset":0.2045,"color":"#000"},{"offset":0.2045,"color":"#fff"},{"offset":0.2273,"color":"#fff"},
{"offset":0.2273,"color":"#000"},{"offset":0.25,"color":"#000"},{"offset":0.25,"color":"#fff"},{"offset":0.2727,"color":"#fff"},
{"offset":0.2727,"color":"#000"},{"offset":0.2955,"color":"#000"},{"offset":0.2955,"color":"#fff"},{"offset":0.3182,"color":"#fff"},
{"offset":0.3182,"color":"#000"},{"offset":0.3409,"color":"#000"},{"offset":0.3409,"color":"#fff"},{"offset":0.3636,"color":"#fff"},
{"offset":0.3636,"color":"#000"},{"offset":0.3864,"color":"#000"},{"offset":0.3864,"color":"#fff"},{"offset":0.4091,"color":"#fff"},
{"offset":0.4091,"color":"#000"},{"offset":0.4318,"color":"#000"},{"offset":0.4318,"color":"#fff"},{"offset":0.4545,"color":"#fff"},
{"offset":0.4545,"color":"#000"},{"offset":0.4773,"color":"#000"},{"offset":0.4773,"color":"#fff"},{"offset":0.5,"color":"#fff"},
{"offset":0.5,"color":"#000"},{"offset":0.5227,"color":"#000"},{"offset":0.5227,"color":"#fff"},{"offset":0.5455,"color":"#fff"},
{"offset":0.5455,"color":"#000"},{"offset":0.5682,"color":"#000"},{"offset":0.5682,"color":"#fff"},{"offset":0.5909,"color":"#fff"},
{"offset":0.5909,"color":"#000"},{"offset":0.6136,"color":"#000"},{"offset":0.6136,"color":"#fff"},{"offset":0.6364,"color":"#fff"},
{"offset":0.6364,"color":"#000"},{"offset":0.6591,"color":"#000"},{"offset":0.6591,"color":"#fff"},{"offset":0.6818,"color":"#fff"},
{"offset":0.6818,"color":"#000"},{"offset":0.7045,"color":"#000"},{"offset":0.7045,"color":"#fff"},{"offset":0.7273,"color":"#fff"},
{"offset":0.7273,"color":"#000"},{"offset":0.75,"color":"#000"},{"offset":0.75,"color":"#fff"},{"offset":0.7727,"color":"#fff"},
{"offset":0.7727,"color":"#000"},{"offset":0.7955,"color":"#000"},{"offset":0.7955,"color":"#fff"},{"offset":0.8182,"color":"#fff"},
{"offset":0.8182,"color":"#000"},{"offset":0.8409,"color":"#000"},{"offset":0.8409,"color":"#fff"},{"offset":0.8636,"color":"#fff"},
{"offset":0.8636,"color":"#000"},{"offset":0.8864,"color":"#000"},{"offset":0.8864,"color":"#fff"},{"offset":0.9091,"color":"#fff"},
{"offset":0.9091,"color":"#000"},{"offset":0.9318,"color":"#000"},{"offset":0.9318,"color":"#fff"},{"offset":0.9545,"color":"#fff"},
{"offset":0.9545,"color":"#000"},{"offset":0.9773,"color":"#000"},{"offset":0.9773,"color":"#fff"},{"offset":1,"color":"#fff"}]}},
 "encoding": {"x": {"field": "group", "type": "nominal"}, "y": {"field": "mean", "type": "quantitative"}}},
{"data": {"name": "bars_shannon"}, "transform": [{"filter": "datum.group === 'DSS'"}],
 "mark": {"type": "bar", "fill": "#f3501e", "blend": "lighten"},
 "encoding": {"x": {"field": "group", "type": "nominal"}, "y": {"field": "mean", "type": "quantitative"}}},
{"data": {"name": "bars_shannon"}, "transform": [{"filter": "datum.group === 'DSS'"}],
 "mark": {"type": "bar", "fill": "transparent", "stroke": "#f3501e", "strokeWidth": 1},
 "encoding": {"x": {"field": "group", "type": "nominal"}, "y": {"field": "mean", "type": "quantitative"}}},
{"data": {"name": "bars_shannon"}, "transform": [{"filter": "datum.group === 'MT'"}],
 "mark": {"type": "bar", "stroke": "#2e5e3e", "strokeWidth": 1, "fill": {"gradient": "linear", "x1": 0, "y1": 0, "x2": 0, "y2": 1, "stops": [
{"offset":0,"color":"#ffffff"},
{"offset":0.012,"color":"#ffffff"},{"offset":0.012,"color":"#2e5e3e"},{"offset":0.023,"color":"#2e5e3e"},{"offset":0.023,"color":"#ffffff"},
{"offset":0.0423,"color":"#ffffff"},{"offset":0.0423,"color":"#2e5e3e"},{"offset":0.0533,"color":"#2e5e3e"},{"offset":0.0533,"color":"#ffffff"},
{"offset":0.0726,"color":"#ffffff"},{"offset":0.0726,"color":"#2e5e3e"},{"offset":0.0836,"color":"#2e5e3e"},{"offset":0.0836,"color":"#ffffff"},
{"offset":0.1029,"color":"#ffffff"},{"offset":0.1029,"color":"#2e5e3e"},{"offset":0.1139,"color":"#2e5e3e"},{"offset":0.1139,"color":"#ffffff"},
{"offset":0.1332,"color":"#ffffff"},{"offset":0.1332,"color":"#2e5e3e"},{"offset":0.1442,"color":"#2e5e3e"},{"offset":0.1442,"color":"#ffffff"},
{"offset":0.1635,"color":"#ffffff"},{"offset":0.1635,"color":"#2e5e3e"},{"offset":0.1745,"color":"#2e5e3e"},{"offset":0.1745,"color":"#ffffff"},
{"offset":0.1938,"color":"#ffffff"},{"offset":0.1938,"color":"#2e5e3e"},{"offset":0.2048,"color":"#2e5e3e"},{"offset":0.2048,"color":"#ffffff"},
{"offset":0.2241,"color":"#ffffff"},{"offset":0.2241,"color":"#2e5e3e"},{"offset":0.2351,"color":"#2e5e3e"},{"offset":0.2351,"color":"#ffffff"},
{"offset":0.2544,"color":"#ffffff"},{"offset":0.2544,"color":"#2e5e3e"},{"offset":0.2654,"color":"#2e5e3e"},{"offset":0.2654,"color":"#ffffff"},
{"offset":0.2847,"color":"#ffffff"},{"offset":0.2847,"color":"#2e5e3e"},{"offset":0.2957,"color":"#2e5e3e"},{"offset":0.2957,"color":"#ffffff"},
{"offset":0.315,"color":"#ffffff"},{"offset":0.315,"color":"#2e5e3e"},{"offset":0.326,"color":"#2e5e3e"},{"offset":0.326,"color":"#ffffff"},
{"offset":0.3453,"color":"#ffffff"},{"offset":0.3453,"color":"#2e5e3e"},{"offset":0.3563,"color":"#2e5e3e"},{"offset":0.3563,"color":"#ffffff"},
{"offset":0.3756,"color":"#ffffff"},{"offset":0.3756,"color":"#2e5e3e"},{"offset":0.3866,"color":"#2e5e3e"},{"offset":0.3866,"color":"#ffffff"},
{"offset":0.4059,"color":"#ffffff"},{"offset":0.4059,"color":"#2e5e3e"},{"offset":0.4169,"color":"#2e5e3e"},{"offset":0.4169,"color":"#ffffff"},
{"offset":0.4362,"color":"#ffffff"},{"offset":0.4362,"color":"#2e5e3e"},{"offset":0.4472,"color":"#2e5e3e"},{"offset":0.4472,"color":"#ffffff"},
{"offset":0.4665,"color":"#ffffff"},{"offset":0.4665,"color":"#2e5e3e"},{"offset":0.4775,"color":"#2e5e3e"},{"offset":0.4775,"color":"#ffffff"},
{"offset":0.4968,"color":"#ffffff"},{"offset":0.4968,"color":"#2e5e3e"},{"offset":0.5078,"color":"#2e5e3e"},{"offset":0.5078,"color":"#ffffff"},
{"offset":0.5272,"color":"#ffffff"},{"offset":0.5272,"color":"#2e5e3e"},{"offset":0.5382,"color":"#2e5e3e"},{"offset":0.5382,"color":"#ffffff"},
{"offset":0.5575,"color":"#ffffff"},{"offset":0.5575,"color":"#2e5e3e"},{"offset":0.5685,"color":"#2e5e3e"},{"offset":0.5685,"color":"#ffffff"},
{"offset":0.5878,"color":"#ffffff"},{"offset":0.5878,"color":"#2e5e3e"},{"offset":0.5988,"color":"#2e5e3e"},{"offset":0.5988,"color":"#ffffff"},
{"offset":0.6181,"color":"#ffffff"},{"offset":0.6181,"color":"#2e5e3e"},{"offset":0.6291,"color":"#2e5e3e"},{"offset":0.6291,"color":"#ffffff"},
{"offset":0.6484,"color":"#ffffff"},{"offset":0.6484,"color":"#2e5e3e"},{"offset":0.6594,"color":"#2e5e3e"},{"offset":0.6594,"color":"#ffffff"},
{"offset":0.6787,"color":"#ffffff"},{"offset":0.6787,"color":"#2e5e3e"},{"offset":0.6897,"color":"#2e5e3e"},{"offset":0.6897,"color":"#ffffff"},
{"offset":0.709,"color":"#ffffff"},{"offset":0.709,"color":"#2e5e3e"},{"offset":0.72,"color":"#2e5e3e"},{"offset":0.72,"color":"#ffffff"},
{"offset":0.7393,"color":"#ffffff"},{"offset":0.7393,"color":"#2e5e3e"},{"offset":0.7503,"color":"#2e5e3e"},{"offset":0.7503,"color":"#ffffff"},
{"offset":0.7696,"color":"#ffffff"},{"offset":0.7696,"color":"#2e5e3e"},{"offset":0.7806,"color":"#2e5e3e"},{"offset":0.7806,"color":"#ffffff"},
{"offset":0.7999,"color":"#ffffff"},{"offset":0.7999,"color":"#2e5e3e"},{"offset":0.8109,"color":"#2e5e3e"},{"offset":0.8109,"color":"#ffffff"},
{"offset":0.8302,"color":"#ffffff"},{"offset":0.8302,"color":"#2e5e3e"},{"offset":0.8412,"color":"#2e5e3e"},{"offset":0.8412,"color":"#ffffff"},
{"offset":0.8605,"color":"#ffffff"},{"offset":0.8605,"color":"#2e5e3e"},{"offset":0.8715,"color":"#2e5e3e"},{"offset":0.8715,"color":"#ffffff"},
{"offset":0.8908,"color":"#ffffff"},{"offset":0.8908,"color":"#2e5e3e"},{"offset":0.9018,"color":"#2e5e3e"},{"offset":0.9018,"color":"#ffffff"},
{"offset":0.9211,"color":"#ffffff"},{"offset":0.9211,"color":"#2e5e3e"},{"offset":0.9321,"color":"#2e5e3e"},{"offset":0.9321,"color":"#ffffff"},
{"offset":0.9514,"color":"#ffffff"},{"offset":0.9514,"color":"#2e5e3e"},{"offset":0.9624,"color":"#2e5e3e"},{"offset":0.9624,"color":"#ffffff"},
{"offset":0.9817,"color":"#ffffff"},{"offset":0.9817,"color":"#2e5e3e"},{"offset":0.9927,"color":"#2e5e3e"},{"offset":0.9927,"color":"#ffffff"},
{"offset":1,"color":"#ffffff"}]}},
 "encoding": {"x": {"field": "group", "type": "nominal"}, "y": {"field": "mean", "type": "quantitative"}}},
{"data": {"name": "bars_shannon"}, "mark": {"type": "rule", "strokeWidth": 1},
 "encoding": {"x": {"field": "group", "type": "nominal"}, "y": {"field": "mean", "type": "quantitative"}, "y2": {"field": "hi"}, "color": {"field": "group", "type": "nominal", "scale": {"domain": ["CON","DSS","MT"], "range": ["#f0404a","#f3501e","#2e5e3e"]}, "legend": null}}},
{"data": {"name": "bars_shannon"}, "mark": {"type": "tick", "size": 22, "thickness": 1},
 "encoding": {"x": {"field": "group", "type": "nominal"}, "y": {"field": "hi", "type": "quantitative"}, "color": {"field": "group", "type": "nominal", "legend": null}}},
{"data": {"values": [{"x1":"CON","x2":"DSS","y1":8.88,"y2":8.88},{"x1":"CON","x2":"CON","y1":8.57,"y2":8.88},{"x1":"DSS","x2":"DSS","y1":8.57,"y2":8.88},{"x1":"DSS","x2":"MT","y1":8.15,"y2":8.15},{"x1":"DSS","x2":"DSS","y1":7.84,"y2":8.15},{"x1":"MT","x2":"MT","y1":7.84,"y2":8.15}]},
 "mark": {"type": "rule", "color": "#555555", "strokeWidth": 1},
 "encoding": {"x": {"field": "x1", "type": "nominal"}, "x2": {"field": "x2"}, "y": {"field": "y1", "type": "quantitative"}, "y2": {"field": "y2"}}},
{"data": {"values": [{"x":"CON","y":8.88,"label":"**"},{"x":"DSS","y":8.15,"label":"*"}]},
 "mark": {"type": "text", "dx": 37, "dy": 2, "baseline": "alphabetic", "fontSize": 11.5, "color": "#444444"},
 "encoding": {"x": {"field": "x", "type": "nominal"}, "y": {"field": "y", "type": "quantitative"}, "text": {"field": "label"}}}
]
},
{
"width": 266, "height": 226,
"view": {"stroke": "#333333", "strokeWidth": 1},
"title": {"text": "(f)", "orient": "bottom", "anchor": "middle", "frame": "bounds", "offset": 6},
"resolve": {"axis": {"x": "independent", "y": "independent"}},
"layer": [
{"data": {"name": "pcoa"},
 "mark": {"type": "point", "size": 32, "strokeWidth": 1.2, "opacity": 1},
 "encoding": {
  "x": {"field": "a1", "type": "quantitative", "scale": {"domain": [-0.351, 0.2727], "nice": false, "zero": false}, "axis": {"title": "PCoA1", "values": [-0.2,0,0.2], "format": ".1f", "labelOverlap": false, "labelFlush": false, "grid": true, "gridDash": [1,3], "gridColor": "#8a8a8a", "gridOpacity": {"condition": {"test": "datum.value == 0", "value": 0}, "value": 1}, "domain": false, "tickSize": 3, "tickColor": "#333333", "labelColor": "#4d4d4d", "labelFontSize": 10.5, "labelPadding": 2, "titlePadding": 3}},
  "y": {"field": "a2", "type": "quantitative", "scale": {"domain": [-0.3975, 0.241], "nice": false, "zero": false}, "axis": {"title": "PCoA2", "values": [-0.2,0,0.2], "format": ".1f", "labelOverlap": false, "labelFlush": false, "grid": true, "gridDash": [1,3], "gridColor": "#8a8a8a", "gridOpacity": {"condition": {"test": "datum.value == 0", "value": 0}, "value": 1}, "domain": false, "tickSize": 3, "tickColor": "#333333", "labelColor": "#4d4d4d", "labelFontSize": 10.5, "labelPadding": 2, "titlePadding": 6}},
  "fill": {"field": "group", "type": "nominal", "scale": {"domain": ["CON","DSS","MT"], "range": ["#e8101a","#17206a","transparent"]}, "legend": {"orient": "bottom", "direction": "vertical", "title": "Group", "symbolSize": 55, "offset": 10, "rowPadding": 1.5, "symbolStrokeWidth": 1.2}},
  "stroke": {"field": "group", "type": "nominal", "scale": {"domain": ["CON","DSS","MT"], "range": ["#e8101a","#17206a","#f04a7a"]}, "legend": {"orient": "bottom", "direction": "vertical", "title": "Group", "symbolSize": 55, "offset": 10, "rowPadding": 1.5, "symbolStrokeWidth": 1.2}},
  "shape": {"field": "group", "type": "nominal", "scale": {"domain": ["CON","DSS","MT"], "range": ["circle","triangle-up","M-1.6,0H1.6M0,-1.6V1.6"]}, "legend": {"orient": "bottom", "direction": "vertical", "title": "Group", "symbolSize": 55, "offset": 10, "rowPadding": 1.5, "symbolStrokeWidth": 1.2}}
 }},
{"data": {"values": [{}]},
 "mark": {"type": "rule", "strokeDash": [4,3], "color": "#555555", "strokeWidth": 1},
 "encoding": {"x": {"datum": 0, "type": "quantitative", "axis": {"orient": "top", "title": "PCoA", "values": [-0.3,-0.1,0.1], "labels": false, "ticks": false, "domain": false, "grid": true, "gridDash": [1,3], "gridColor": "#8a8a8a", "titlePadding": 3, "titleFontSize": 11.5}}}},
{"data": {"values": [{}]},
 "mark": {"type": "rule", "strokeDash": [4,3], "color": "#555555", "strokeWidth": 1},
 "encoding": {"y": {"datum": 0, "type": "quantitative", "axis": {"orient": "right", "title": null, "values": [-0.3,-0.08,0.1], "labels": false, "ticks": false, "domain": false, "grid": true, "gridDash": [1,3], "gridColor": "#8a8a8a"}}}}
]
}
],
"spacing": 97,
"bounds": "flush",
"resolve": {"scale": {"color": "independent", "fill": "independent", "stroke": "independent", "shape": "independent"}, "legend": {"color": "independent", "fill": "independent", "stroke": "independent", "shape": "independent"}}
}
],
"config": {
 "font": "Liberation Serif",
 "view": {"stroke": null},
 "axis": {"labelFont": "Liberation Serif", "titleFont": "Liberation Serif", "labelFontSize": 11, "titleFontSize": 11.5, "titleFontWeight": "normal", "labelColor": "#333333", "titleColor": "#333333", "domainColor": "#808080", "tickColor": "#808080", "grid": false, "tickSize": 4},
 "legend": {"labelFont": "Liberation Serif", "titleFont": "Liberation Serif", "labelFontSize": 11.5, "titleFontSize": 11.5, "titleFontWeight": "normal", "labelColor": "#333333", "titleColor": "#333333"},
 "title": {"font": "Liberation Serif", "fontSize": 11.5, "fontWeight": "normal", "color": "#333333"},
 "text": {"font": "Liberation Serif"}
}
}
